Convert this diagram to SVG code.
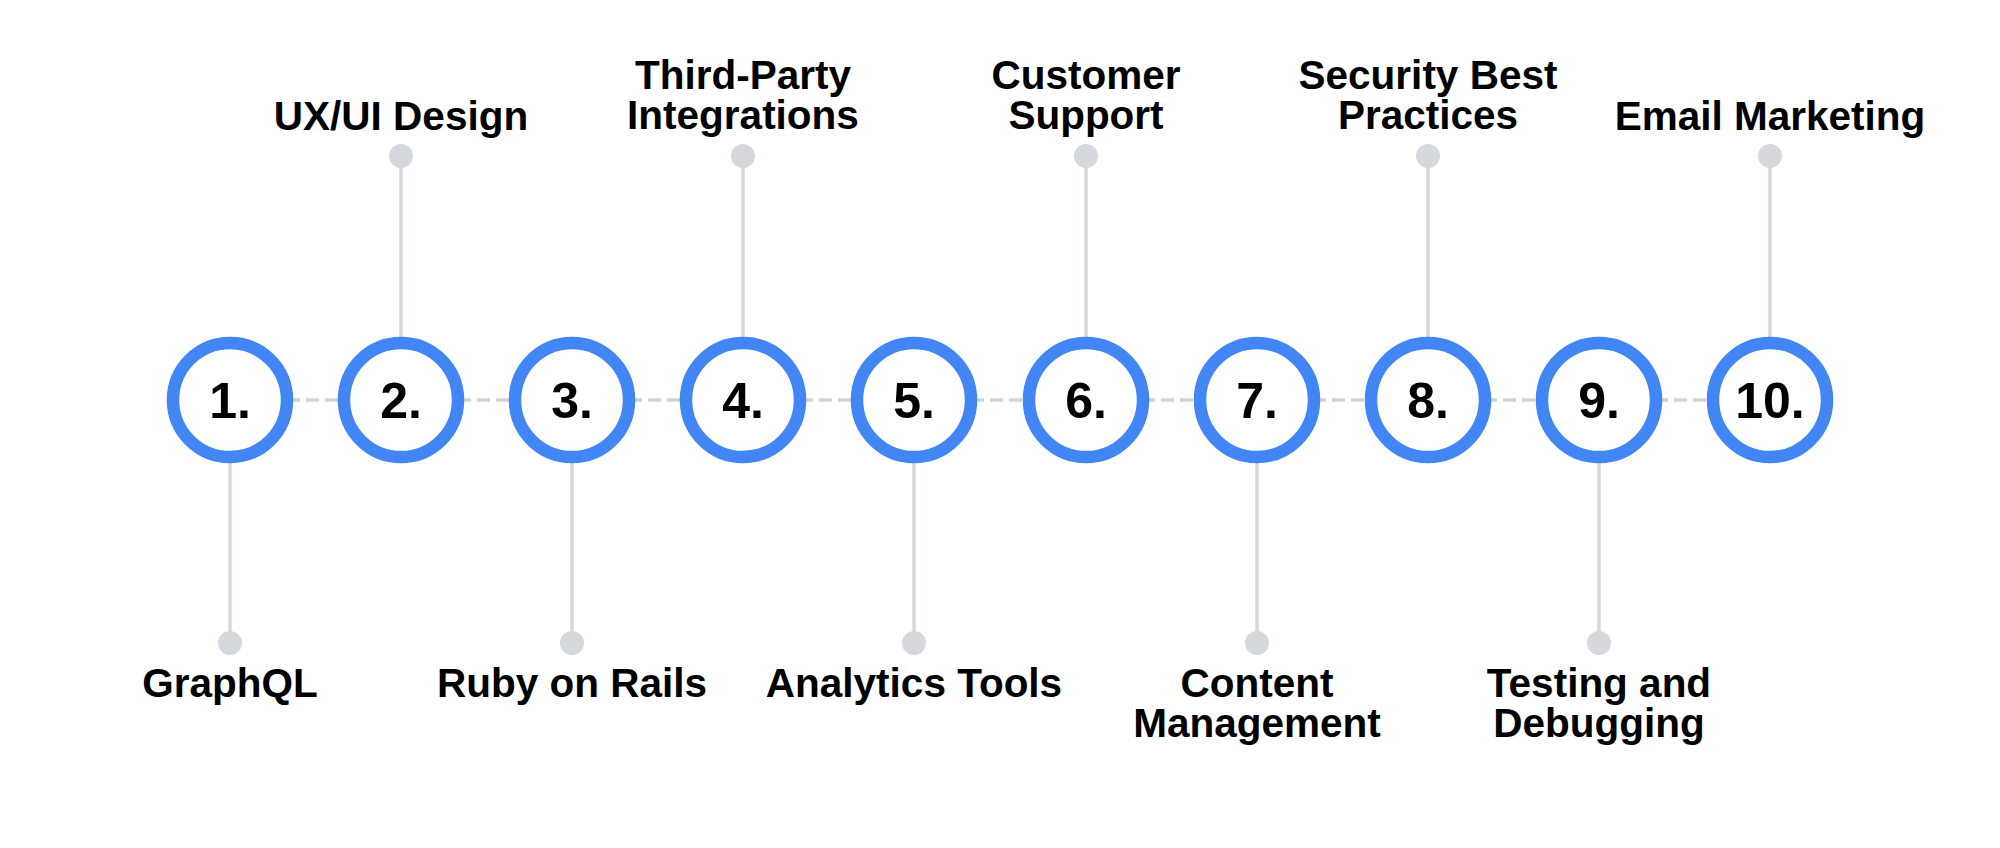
<svg xmlns="http://www.w3.org/2000/svg" width="2000" height="848" viewBox="0 0 2000 848">
<style>
.ring{fill:#ffffff;stroke:#4285f4;stroke-width:12.5}
.num{font-family:"Liberation Sans",Arial,sans-serif;font-weight:700;font-size:50px;fill:#000;text-anchor:middle}
.lbl{font-family:"Liberation Sans",Arial,sans-serif;font-weight:700;font-size:40.5px;fill:#000;text-anchor:middle}
.stem{stroke:#d5d8dc;stroke-width:3.5;fill:none}
.dot{fill:#d5d8dc}
.dash{stroke:#d3d3d3;stroke-width:3.5;stroke-dasharray:13 6;fill:none}
</style>
<rect width="2000" height="848" fill="#ffffff"/>
<g id="connectors">
<line class="dash" x1="230" y1="400" x2="1770" y2="400"/>
<line class="stem" x1="230" y1="400" x2="230" y2="643"/><circle class="dot" cx="230" cy="643" r="12"/>
<line class="stem" x1="401" y1="400" x2="401" y2="156"/><circle class="dot" cx="401" cy="156" r="12"/>
<line class="stem" x1="572" y1="400" x2="572" y2="643"/><circle class="dot" cx="572" cy="643" r="12"/>
<line class="stem" x1="743" y1="400" x2="743" y2="156"/><circle class="dot" cx="743" cy="156" r="12"/>
<line class="stem" x1="914" y1="400" x2="914" y2="643"/><circle class="dot" cx="914" cy="643" r="12"/>
<line class="stem" x1="1086" y1="400" x2="1086" y2="156"/><circle class="dot" cx="1086" cy="156" r="12"/>
<line class="stem" x1="1257" y1="400" x2="1257" y2="643"/><circle class="dot" cx="1257" cy="643" r="12"/>
<line class="stem" x1="1428" y1="400" x2="1428" y2="156"/><circle class="dot" cx="1428" cy="156" r="12"/>
<line class="stem" x1="1599" y1="400" x2="1599" y2="643"/><circle class="dot" cx="1599" cy="643" r="12"/>
<line class="stem" x1="1770" y1="400" x2="1770" y2="156"/><circle class="dot" cx="1770" cy="156" r="12"/>
</g>
<g id="n1"><circle class="ring" cx="230" cy="400" r="57"/><text class="num" x="230" y="418">1.</text><text class="lbl" x="230" y="697">GraphQL</text></g>
<g id="n2"><circle class="ring" cx="401" cy="400" r="57"/><text class="num" x="401" y="418">2.</text><text class="lbl" x="401" y="130">UX/UI Design</text></g>
<g id="n3"><circle class="ring" cx="572" cy="400" r="57"/><text class="num" x="572" y="418">3.</text><text class="lbl" x="572" y="697">Ruby on Rails</text></g>
<g id="n4"><circle class="ring" cx="743" cy="400" r="57"/><text class="num" x="743" y="418">4.</text><text class="lbl" x="743" y="89">Third-Party</text><text class="lbl" x="743" y="129">Integrations</text></g>
<g id="n5"><circle class="ring" cx="914" cy="400" r="57"/><text class="num" x="914" y="418">5.</text><text class="lbl" x="914" y="697">Analytics Tools</text></g>
<g id="n6"><circle class="ring" cx="1086" cy="400" r="57"/><text class="num" x="1086" y="418">6.</text><text class="lbl" x="1086" y="89">Customer</text><text class="lbl" x="1086" y="129">Support</text></g>
<g id="n7"><circle class="ring" cx="1257" cy="400" r="57"/><text class="num" x="1257" y="418">7.</text><text class="lbl" x="1257" y="697">Content</text><text class="lbl" x="1257" y="737">Management</text></g>
<g id="n8"><circle class="ring" cx="1428" cy="400" r="57"/><text class="num" x="1428" y="418">8.</text><text class="lbl" x="1428" y="89">Security Best</text><text class="lbl" x="1428" y="129">Practices</text></g>
<g id="n9"><circle class="ring" cx="1599" cy="400" r="57"/><text class="num" x="1599" y="418">9.</text><text class="lbl" x="1599" y="697">Testing and</text><text class="lbl" x="1599" y="737">Debugging</text></g>
<g id="n10"><circle class="ring" cx="1770" cy="400" r="57"/><text class="num" x="1770" y="418">10.</text><text class="lbl" x="1770" y="130">Email Marketing</text></g>
</svg>
